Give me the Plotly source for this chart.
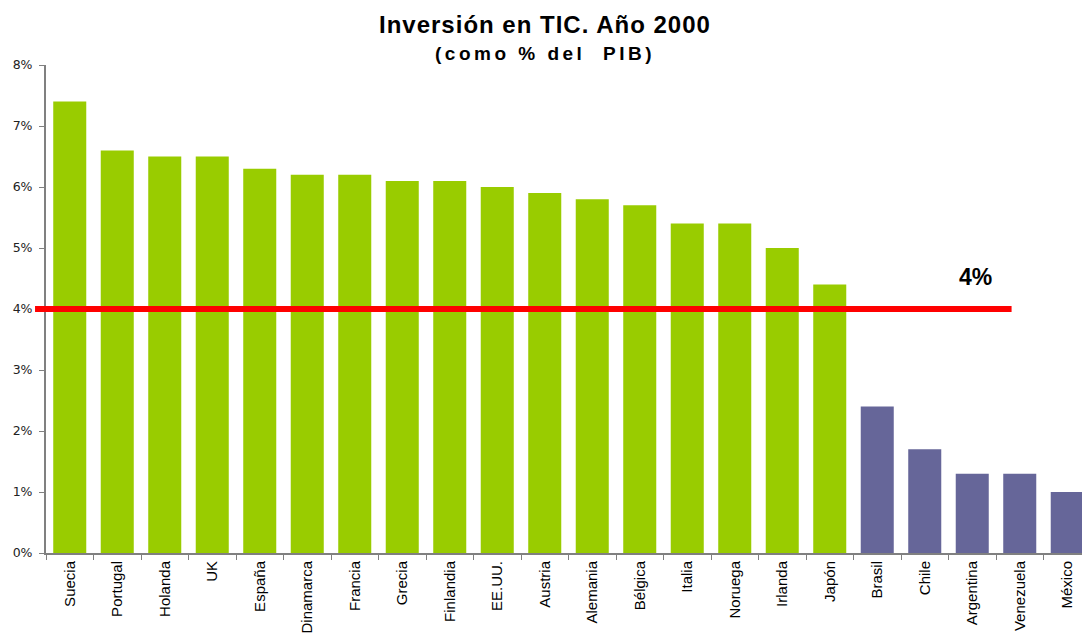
import plotly.graph_objects as go

countries = ["Suecia", "Portugal", "Holanda", "UK", "España", "Dinamarca", "Francia",
             "Grecia", "Finlandia", "EE.UU.", "Austria", "Alemania", "Bélgica", "Italia",
             "Noruega", "Irlanda", "Japón", "Brasil", "Chile", "Argentina", "Venezuela", "México"]
values = [7.4, 6.6, 6.5, 6.5, 6.3, 6.2, 6.2, 6.1, 6.1, 6.0, 5.9, 5.8, 5.7, 5.4,
          5.4, 5.0, 4.4, 2.4, 1.7, 1.3, 1.3, 1.0]
groups = ["oecd"] * 17 + ["latam"] * 5
threshold = 4
threshold_label = "4%"
title_text = "Inversión en TIC. Año 2000"
subtitle_text = "(como % del&nbsp; PIB)"

group_colors = {"oecd": "#99CC00", "latam": "#666699"}
colors = [group_colors[g] for g in groups]

fig = go.Figure()
fig.add_trace(go.Bar(x=countries, y=values, marker=dict(color=colors, line=dict(width=0)),
                     hoverinfo="x+y"))

fig.add_shape(type="line", xref="paper", yref="y", x0=-0.0105, x1=0.924,
              y0=threshold, y1=threshold, line=dict(color="#FF0000", width=6))

fig.add_annotation(xref="paper", yref="y", x=0.889, y=threshold, yshift=32,
                   xanchor="center", yanchor="middle",
                   text="<b>" + threshold_label + "</b>", showarrow=False,
                   font=dict(family="Liberation Sans, Arial", size=23, color="black"))

fig.add_annotation(xref="paper", yref="paper", x=0.4775, y=1, yshift=41,
                   xanchor="center", yanchor="middle", showarrow=False,
                   text="<span style='letter-spacing:1px'><b>" + title_text + "</b></span>",
                   font=dict(family="Liberation Sans, Arial", size=24, color="black"))
fig.add_annotation(xref="paper", yref="paper", x=0.4775, y=1, yshift=12,
                   xanchor="center", yanchor="middle", showarrow=False,
                   text="<span style='letter-spacing:3.5px'><b>" + subtitle_text + "</b></span>",
                   font=dict(family="Liberation Sans, Arial", size=19, color="black"))

fig.update_layout(
    width=1091, height=637,
    margin=dict(l=46, r=0, t=65, b=84),
    paper_bgcolor="white", plot_bgcolor="white",
    bargap=0.305,
    showlegend=False,
    xaxis=dict(
        type="category", automargin=False, showline=True, linecolor="#808080", linewidth=2,
        ticks="outside", tickson="boundaries", ticklen=5, tickcolor="#808080",
        tickangle=-90, tickfont=dict(family="Liberation Sans, Arial", size=15, color="black"),
        range=[-0.5, 21.5], showgrid=False,
    ),
    yaxis=dict(
        range=[0, 8], dtick=1, ticksuffix="%", automargin=False,
        showline=True, linecolor="#808080", linewidth=2,
        ticks="outside", ticklen=5, tickcolor="#808080", showgrid=False, zeroline=False,
        ticklabelstandoff=4,
        tickfont=dict(family="DejaVu Sans, Verdana", size=12.5, color="#222222"),
    ),
)

fig.write_html("out.html", config={"displayModeBar": False},
               post_script="document.body.style.margin='0';document.body.style.overflow='hidden';")
